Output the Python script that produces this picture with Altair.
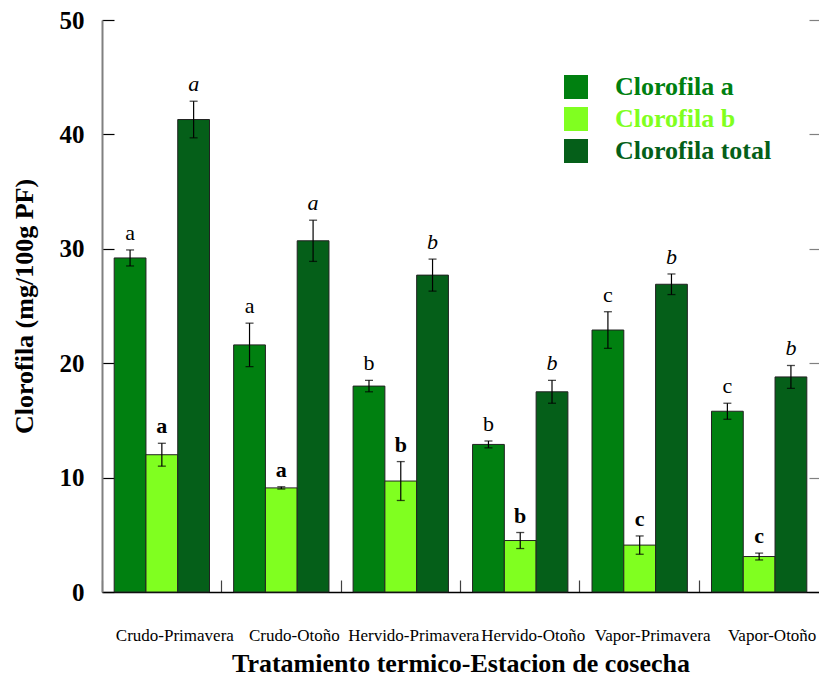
import altair as alt
import pandas as pd

groups = ["Crudo-Primavera", "Crudo-Otoño", "Hervido-Primavera",
          "Hervido-Otoño", "Vapor-Primavera", "Vapor-Otoño"]
series = ["Clorofila a", "Clorofila b", "Clorofila total"]
chl_a = [29.2, 21.6, 18.0, 12.9, 22.9, 15.8]
chl_a_err = [0.7, 1.9, 0.5, 0.3, 1.6, 0.7]
chl_b = [12.0, 9.1, 9.7, 4.5, 4.1, 3.1]
chl_b_err = [1.0, 0.1, 1.7, 0.7, 0.8, 0.3]
chl_t = [41.3, 30.7, 27.7, 17.5, 26.9, 18.8]
chl_t_err = [1.6, 1.8, 1.4, 1.0, 0.9, 1.0]
letters_a = ["a", "a", "b", "b", "c", "c"]
letters_b = ["a", "a", "b", "b", "c", "c"]
letters_t = ["a", "a", "b", "b", "b", "b"]
colors = ["#008010", "#80FF20", "#055F19"]
y_ticks = [0, 10, 20, 30, 40, 50]

rows = []
for s, vals, errs, lets in zip(series, [chl_a, chl_b, chl_t],
                               [chl_a_err, chl_b_err, chl_t_err],
                               [letters_a, letters_b, letters_t]):
    for g, v, e, l in zip(groups, vals, errs, lets):
        rows.append({"grupo": g, "serie": s, "valor": v,
                     "lo": v - e, "hi": v + e, "letra": l})
df = pd.DataFrame(rows)

FONT = "Liberation Serif"

x_enc = alt.X("grupo:N", sort=groups,
              scale=alt.Scale(paddingInner=0.202, paddingOuter=0.102),
              axis=alt.Axis(title="Tratamiento termico-Estacion de cosecha",
                            titleFont=FONT, titleFontSize=26, titleFontWeight="bold",
                            titleColor="black", titlePadding=7,
                            labelFont=FONT, labelFontSize=17, labelColor="black",
                            labelAngle=0, labelOverlap=False, labelOffset=13,
                            labelPadding=35, ticks=False, tickSize=0,
                            domainColor="black", domainWidth=1.5,
                            grid=True, gridColor="#404040", gridWidth=1.2,
                            gridDash=[12, 560], gridDashOffset=12,
                            bandPosition=-0.1266))
xoff = alt.XOffset("serie:N", sort=series,
                   scale=alt.Scale(paddingInner=0, paddingOuter=0))
y_scale = alt.Scale(domain=[0, 50], nice=False)

color_enc = alt.Color("serie:N", sort=series,
                      scale=alt.Scale(domain=series, range=colors),
                      legend=alt.Legend(orient="none", legendX=461, legendY=54,
                                        title=None, symbolType="square",
                                        symbolSize=576, symbolStrokeWidth=0,
                                        labelFont=FONT, labelFontSize=26,
                                        labelFontWeight="bold", labelOffset=26,
                                        rowPadding=6, padding=0, labelLimit=400,
                                        labelColor=alt.ExprRef(
                                            "scale('color', datum.value)")))

bars = alt.Chart(df).mark_bar(stroke="#222222", strokeWidth=1).encode(
    x=x_enc, xOffset=xoff,
    y=alt.Y("valor:Q", scale=y_scale,
            axis=alt.Axis(title="Clorofila (mg/100g PF)", values=y_ticks,
                          titleFont=FONT, titleFontSize=26, titleFontWeight="bold",
                          titleColor="black", titlePadding=22,
                          labelFont=FONT, labelFontSize=25, labelFontWeight="bold",
                          labelColor="black", labelPadding=18,
                          ticks=False, tickSize=0,
                          domainColor="#808080", domainWidth=2,
                          grid=True, gridColor="black", gridWidth=1.2,
                          gridDash=[12, 2000])),
    color=color_enc,
)

stems = alt.Chart(df).mark_rule(color="black", strokeWidth=1.2).encode(
    x=x_enc, xOffset=xoff,
    y=alt.Y("lo:Q", scale=y_scale,
            axis=alt.Axis(orient="right", title=None, values=y_ticks,
                          labels=False, ticks=False, tickSize=0, domain=False,
                          grid=True, gridColor="#808080", gridWidth=1.2,
                          gridDash=[10, 2000])),
    y2="hi:Q",
)

cap_hi = alt.Chart(df).mark_tick(color="black", size=8, thickness=1.3,
                                 orient="horizontal").encode(
    x=x_enc, xOffset=xoff, y=alt.Y("hi:Q", scale=y_scale, axis=None))
cap_lo = alt.Chart(df).mark_tick(color="black", size=8, thickness=1.3,
                                 orient="horizontal").encode(
    x=x_enc, xOffset=xoff, y=alt.Y("lo:Q", scale=y_scale, axis=None))


def letters(serie, **style):
    return alt.Chart(df).transform_filter(alt.datum.serie == serie).mark_text(
        font=FONT, fontSize=22, baseline="alphabetic", dy=-10, color="black",
        **style).encode(
        x=x_enc, xOffset=xoff,
        y=alt.Y("hi:Q", scale=y_scale, axis=None),
        text="letra:N")


txt_a = letters("Clorofila a")
txt_b = letters("Clorofila b", fontWeight="bold")
txt_t = letters("Clorofila total", fontStyle="italic")

chart = alt.layer(bars, stems, cap_hi, cap_lo, txt_a, txt_b, txt_t).resolve_axis(
    y="independent").properties(
    width=717, height=572,
    autosize=alt.AutoSizeParams(type="none"),
    padding={"left": 94, "top": 12, "right": 0, "bottom": 87},
).configure_view(stroke=None)

chart.save("out.html", embed_options={"renderer": "svg", "actions": False})
